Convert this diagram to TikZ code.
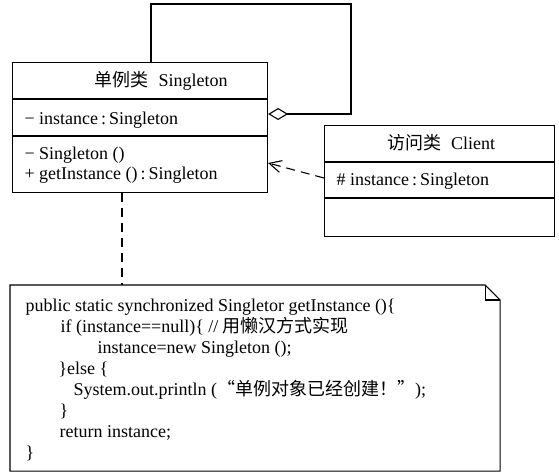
\documentclass[tikz,border=0pt]{standalone}
\usepackage{fontspec}
\setmainfont{Liberation Serif}
\newfontfamily\cjk{Noto Sans CJK SC}
\usetikzlibrary{arrows.meta}
\begin{document}
\begin{tikzpicture}[x=1pt,y=-1pt,line width=1.1pt,
  box/.style={draw,rectangle,inner sep=0pt,anchor=north west},
  lbl/.style={font=\fontsize{18}{21}\selectfont,inner sep=0pt},
  txt/.style={lbl,anchor=base west},
  dsh/.style={dash pattern=on 9pt off 6pt}]
\useasboundingbox[fill=white] (0,0) rectangle (559,475);
% Singleton class
\node[box,minimum width=255.5pt,minimum height=130pt] (S) at (11.5,62) {};
\draw (S.west |- 0,99) -- (S.east |- 0,99);
\draw (S.west |- 0,136) -- (S.east |- 0,136);
\node[lbl,anchor=base] (Sname) at (161,86) {{\cjk 单例类}\hspace{10pt}Singleton};
\node[txt] (Sattr) at (24,124) {− instance\,:\,Singleton};
\node[txt] (Sm1) at (24,159) {− Singleton ()};
\node[txt] (Sm2) at (24,179) {+ getInstance ()\,:\,Singleton};
% Client class
\node[box,minimum width=230pt,minimum height=111pt] (C) at (324,125) {};
\draw (C.west |- 0,162) -- (C.east |- 0,162);
\draw (C.west |- 0,198) -- (C.east |- 0,198);
\node[lbl,anchor=base] (Cname) at (441,149) {{\cjk 访问类}\hspace{10pt}Client};
\node[txt] (Cattr) at (336,185) {\# instance\,:\,Singleton};
% self aggregation
\coordinate (lt) at (151,4);
\coordinate (lr) at (351,114);
\draw[-{Diamond[open,length=20pt,width=12pt]}] (lt |- S.north) -- (lt) -| (lr) -- (lr -| S.east);
% dependency
\draw[dsh,-{Straight Barb[length=12pt,width=12pt]}] (C.west |- 0,178) -- (S.east |- 0,163);
% note
\node[anchor=north west,minimum width=489pt,minimum height=185pt,inner sep=0pt] (N) at (10,285) {};
\draw (N.north west) -- ([xshift=-15pt]N.north east) -- ([yshift=-15pt]N.north east) -- (N.south east) -- (N.south west) -- cycle;
\draw ([xshift=-15pt]N.north east) |- ([yshift=-15pt]N.north east);
\coordinate (nc) at (122,285);
\draw[dsh] (S.south -| nc) -- (N.north -| nc);
\node[txt] (c1) at (25,311) {public static synchronized Singletor getInstance ()\{};
\node[txt] (c2) at (60,332.1) {if (instance==null)\{ // {\cjk 用懒汉方式实现}};
\node[txt] (c3) at (97,353.2) {instance=new Singleton ();};
\node[txt] (c4) at (58,374.3) {\}else \{};
\node[txt] (c5) at (73,395.4) {System.out.println ({\cjk “单例对象已经创建！”});};
\node[txt] (c6) at (59,416.5) {\}};
\node[txt] (c7) at (59,437.6) {return instance;};
\node[txt] (c8) at (25,458.7) {\}};
\end{tikzpicture}
\end{document}
